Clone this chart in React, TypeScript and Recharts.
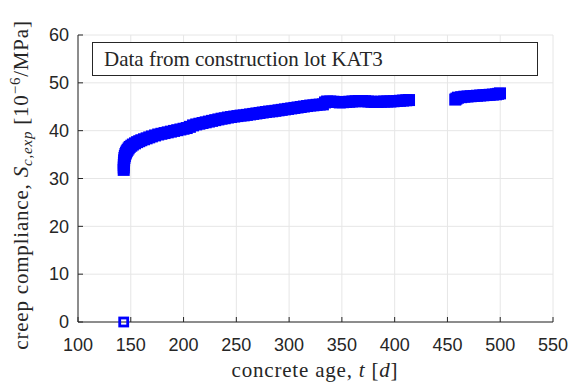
import React from 'react';
import { ScatterChart, Scatter, XAxis, YAxis, CartesianGrid, Legend } from 'recharts';

// concrete age t [d]
const ages = [
  143.3, 143.35, 143.4, 143.5, 143.7, 144.0, 144.4, 144.9, 145.5, 146.2, 147, 148, 149, 150.5, 152, 154,
  156, 158, 160, 162.5, 165, 167.5, 170, 173, 176, 179, 182, 185, 188, 191, 194, 197, 200, 203, 206,
  209, 212, 215, 218, 221, 224, 227, 230, 233, 236, 239, 242, 245, 248, 251, 254, 257, 260, 263, 266,
  269, 272, 275, 278, 281, 284, 287, 290, 293, 296, 299, 302, 305, 308, 311, 314, 317, 320, 323, 326,
  329, 332, 334, 336, 339, 342, 345, 348, 351, 354, 357, 360, 363, 366, 369, 372, 375, 378, 381, 384,
  387, 390, 393, 396, 399, 402, 405, 408, 411, 413.6,
  457.4, 458.5, 460, 463, 466, 469, 472, 475, 478, 481, 484, 487, 490, 493, 496, 498, 499.8,
];
// creep compliance S_c,exp [1e-6/MPa]
const compliance = [
  31.8, 32.3, 32.8, 33.3, 33.8, 34.3, 34.7, 35.1, 35.4, 35.7, 36.0, 36.3, 36.6, 36.85, 37.1, 37.35,
  37.6, 37.8, 38.0, 38.2, 38.4, 38.6, 38.8, 39.0, 39.2, 39.35, 39.5, 39.65, 39.8, 39.95, 40.1, 40.25, 40.4, 40.55, 40.8,
  41.1, 41.3, 41.45, 41.6, 41.75, 41.9, 42.05, 42.2, 42.35, 42.5, 42.6, 42.75, 42.85, 42.95, 43.05, 43.15, 43.2, 43.3, 43.4, 43.5,
  43.6, 43.7, 43.8, 43.9, 44.0, 44.05, 44.15, 44.25, 44.35, 44.45, 44.55, 44.65, 44.75, 44.85, 44.95, 45.05, 45.15, 45.25, 45.3, 45.4,
  45.45, 45.5, 45.9, 46.1, 46.1, 46.05, 46.0, 45.9, 45.95, 46.0, 46.05, 46.1, 46.15, 46.2, 46.2, 46.15, 46.1, 46.05, 46.0, 46.0,
  46.05, 46.1, 46.1, 46.1, 46.15, 46.2, 46.25, 46.3, 46.35, 46.4,
  46.5, 46.7, 46.9, 47.0, 47.1, 47.15, 47.2, 47.25, 47.3, 47.35, 47.4, 47.45, 47.5, 47.55, 47.6, 47.7, 47.8,
];
const initialAge = [143.3];
const initialValue = [0];

const xTicks = [100, 150, 200, 250, 300, 350, 400, 450, 500, 550];
const yTicks = [0, 10, 20, 30, 40, 50, 60];

const measured = ages.map((t, i) => ({ t, s: compliance[i] }));
const initial = initialAge.map((t, i) => ({ t, s: initialValue[i] }));

const AXIS = '#262626';
const BLUE = '#0000ff';
const TICK_FONT = '"Liberation Sans", Arial, sans-serif';
const TEXT_FONT = '"Liberation Serif", "Times New Roman", serif';

const FilledSquare = (props: any) => (
  <rect x={props.cx - 6} y={props.cy - 6} width={12} height={12} fill={BLUE} />
);
const HollowSquare = (props: any) => (
  <rect x={props.cx - 4} y={props.cy - 4} width={8} height={8} fill="none" stroke={BLUE} strokeWidth={2.8} />
);

const BottomTick = ({ x, y, payload }: any) => (
  <g>
    <line x1={x} x2={x} y1={y} y2={y - 5} stroke={AXIS} />
    <text x={x} y={y + 29} textAnchor="middle" fontFamily={TICK_FONT} fontSize={18} fill={AXIS}>
      {payload.value}
    </text>
  </g>
);
const LeftTick = ({ x, y, payload }: any) => (
  <g>
    <line x1={x} x2={x + 5} y1={y} y2={y} stroke={AXIS} />
    <text x={x - 9} y={y} dy="0.35em" textAnchor="end" fontFamily={TICK_FONT} fontSize={18} fill={AXIS}>
      {payload.value}
    </text>
  </g>
);
const TopTick = ({ x, y }: any) => <line x1={x} x2={x} y1={y} y2={y + 5} stroke={AXIS} />;
const RightTick = ({ x, y }: any) => <line x1={x} x2={x - 5} y1={y} y2={y} stroke={AXIS} />;

const XLabel = () => (
  <text x={315} y={377} textAnchor="middle" fontFamily={TEXT_FONT} fontSize={21} letterSpacing={0.8} fill={AXIS}>
    concrete age, <tspan fontStyle="italic">t</tspan> [<tspan fontStyle="italic">d</tspan>]
  </text>
);
const YLabel = () => (
  <text
    x={0}
    y={0}
    transform="translate(28,185) rotate(-90)"
    textAnchor="middle"
    fontFamily={TEXT_FONT}
    fontSize={21}
    letterSpacing={0.8}
    fill={AXIS}
  >
    creep compliance, <tspan fontStyle="italic">S</tspan>
    <tspan fontStyle="italic" fontSize={15} dy={4}>c,exp</tspan>
    <tspan dy={-4}> [10</tspan>
    <tspan fontSize={15} dy={-8}>−6</tspan>
    <tspan dy={8}>/MPa]</tspan>
  </text>
);

const LegendBox = () => (
  <div
    style={{
      boxSizing: 'border-box',
      width: 446,
      height: 34,
      border: `1px solid ${AXIS}`,
      background: '#fff',
      fontFamily: TEXT_FONT,
      fontSize: 21,
      color: AXIS,
      paddingLeft: 11,
      lineHeight: '32px',
      textAlign: 'left',
    }}
  >
    Data from construction lot KAT3
  </div>
);

export default function App() {
  return (
    <div style={{ position: 'absolute', left: 0, top: 0, background: '#fff' }}>
      <ScatterChart width={587} height={389} margin={{ top: 35, right: 34, bottom: 0, left: 0 }}>
        <CartesianGrid stroke="#e6e6e6" strokeWidth={1} />
        <XAxis
          type="number"
          dataKey="t"
          domain={[100, 550]}
          ticks={xTicks}
          interval={0}
          height={67}
          tickSize={0}
          tickMargin={0}
          tick={<BottomTick />}
          axisLine={{ stroke: AXIS }}
          label={{ content: () => <XLabel /> }}
        />
        <XAxis
          xAxisId="top"
          orientation="top"
          type="number"
          dataKey="t"
          domain={[100, 550]}
          ticks={xTicks}
          interval={0}
          height={0}
          tickSize={0}
          tick={<TopTick />}
          axisLine={{ stroke: AXIS }}
        />
        <YAxis
          type="number"
          dataKey="s"
          domain={[0, 60]}
          ticks={yTicks}
          interval={0}
          width={78}
          tickSize={0}
          tickMargin={0}
          tick={<LeftTick />}
          axisLine={{ stroke: AXIS }}
          label={{ content: () => <YLabel /> }}
        />
        <YAxis
          yAxisId="right"
          orientation="right"
          type="number"
          dataKey="s"
          domain={[0, 60]}
          ticks={yTicks}
          interval={0}
          width={0}
          tickSize={0}
          tick={<RightTick />}
          axisLine={{ stroke: AXIS }}
        />
        <Legend
          layout="horizontal"
          verticalAlign="middle"
          align="center"
          content={() => <LegendBox />}
          wrapperStyle={{ position: 'absolute', left: 92, top: 42, width: 446, height: 34 }}
        />
        <Scatter data={measured} shape={FilledSquare} isAnimationActive={false} />
        <Scatter data={initial} shape={HollowSquare} isAnimationActive={false} />
      </ScatterChart>
    </div>
  );
}
